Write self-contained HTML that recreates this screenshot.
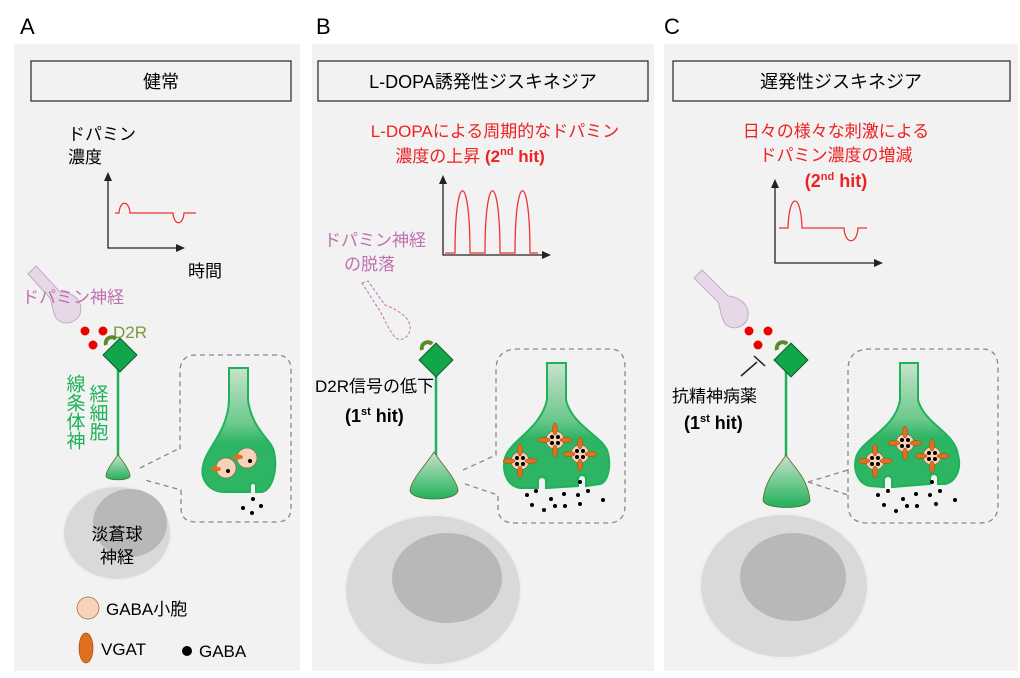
<!DOCTYPE html>
<html><head><meta charset="utf-8"><style>
body{margin:0;background:#fff;}
svg{display:block;font-family:"Liberation Sans","Noto Sans CJK JP",sans-serif;}
</style></head><body>
<svg width="1020" height="678" viewBox="0 0 1020 678" xmlns="http://www.w3.org/2000/svg">
<defs>
<linearGradient id="g" x1="0" y1="0" x2="0" y2="1"><stop offset="0" stop-color="#c8e2cc"/><stop offset="1" stop-color="#1fb25a"/></linearGradient>
<linearGradient id="t" x1="0" y1="0" x2="0" y2="1"><stop offset="0" stop-color="#c8e2cc"/><stop offset="0.45" stop-color="#6cc98c"/><stop offset="0.6" stop-color="#2db563"/><stop offset="1" stop-color="#2db563"/></linearGradient>
<g id="ves"><circle r="9" fill="#f6d3b8" stroke="#8a6a50" stroke-width="0.7"/>
<ellipse cx="0" cy="-11" rx="2.5" ry="6" fill="#e07020" stroke="#a04a10" stroke-width="0.5"/>
<ellipse cx="0" cy="11" rx="2.5" ry="6" fill="#e07020" stroke="#a04a10" stroke-width="0.5"/>
<ellipse cx="-11" cy="0" rx="6" ry="2.5" fill="#e07020" stroke="#a04a10" stroke-width="0.5"/>
<ellipse cx="11" cy="0" rx="6" ry="2.5" fill="#e07020" stroke="#a04a10" stroke-width="0.5"/>
<circle cx="-3" cy="-3" r="2" fill="#000"/><circle cx="3" cy="-3" r="2" fill="#000"/><circle cx="-3" cy="3" r="2" fill="#000"/><circle cx="3" cy="3" r="2" fill="#000"/></g>
<g id="rec"><rect x="-12" y="-12" width="24" height="24" transform="rotate(45)" fill="#12a64a" stroke="#0d5a2a" stroke-width="1"/>
<path d="M-14,-10 a6,6 0 0 1 10,-6" fill="none" stroke="#5a8a2a" stroke-width="4"/></g>
</defs>
<text x="20" y="34" font-size="22">A</text>
<text x="316" y="34" font-size="22">B</text>
<text x="664" y="34" font-size="22">C</text>
<rect x="14" y="44" width="286" height="627" fill="#f2f2f2"/>
<rect x="312" y="44" width="342" height="627" fill="#f2f2f2"/>
<rect x="664" y="44" width="354" height="627" fill="#f2f2f2"/>
<rect x="31" y="61" width="260" height="40" fill="none" stroke="#333" stroke-width="1.3"/>
<rect x="318" y="61" width="330" height="40" fill="none" stroke="#333" stroke-width="1.3"/>
<rect x="673" y="61" width="337" height="40" fill="none" stroke="#333" stroke-width="1.3"/>
<text x="161" y="88" font-size="18" text-anchor="middle">健常</text>
<text x="483" y="88" font-size="18" text-anchor="middle">L-DOPA誘発性ジスキネジア</text>
<text x="841" y="88" font-size="18" text-anchor="middle">遅発性ジスキネジア</text>

<!-- A graph -->
<text x="68" y="140" font-size="17">ドパミン</text>
<text x="68" y="163" font-size="17">濃度</text>
<text x="188" y="277" font-size="17">時間</text>
<path d="M108,178 V248 H178" fill="none" stroke="#222" stroke-width="1.3"/>
<path d="M104,181 L108,172 L112,181Z M176,244 L185,248 L176,252Z" fill="#222"/>
<path d="M115,213 H119 C120,200 129,200 130,213 H173 C174,226 183,226 184,213 H196" fill="none" stroke="#e33" stroke-width="1.3"/>
<!-- A neuron -->
<path d="M28,274 L36,266 L60,292 C72,292 84,300 80,314 C76,324 62,326 56,318 C52,310 52,302 50,298 Z" fill="#e7d8e8" stroke="#c8a8cc" stroke-width="1"/>
<text x="22" y="303" font-size="17" fill="#c070b0">ドパミン神経</text>
<circle cx="85" cy="331" r="4.5" fill="#e00"/><circle cx="103" cy="331" r="4.5" fill="#e00"/><circle cx="93" cy="345" r="4.5" fill="#e00"/>
<text x="113" y="338" font-size="17" fill="#7a9a3a">D2R</text>
<line x1="118" y1="365" x2="118" y2="457" stroke="#1fb25a" stroke-width="2.5"/>
<use href="#rec" x="120" y="355"/>
<path d="M118,455 C114,460 106,470 106,476 C106,481 130,481 130,476 C130,470 122,460 118,455Z" fill="url(#g)" stroke="#5a6a2a" stroke-width="0.8"/>
<text font-size="19" fill="#1fb25a" writing-mode="tb" x="74" y="374">線条体神</text>
<text font-size="19" fill="#1fb25a" writing-mode="tb" x="97" y="384">経細胞</text>
<path d="M140,468 L176,450 L180,450 L180,372 Q180,355 196,355 L276,355 Q291,355 291,370 L291,508 Q291,522 276,522 L196,522 Q181,522 181,508 L181,490 L145,480" fill="none" stroke="#888" stroke-width="1.3" stroke-dasharray="5,4"/>
<path d="M229,368 H248 V400 C252,430 272,440 274,452 C278,470 272,490 262,492 L256,492 V486 A3,3 0 0 0 250,486 V492 L225,492 C208,492 200,478 203,466 C206,448 228,432 229,400Z" fill="url(#t)" stroke="#1fb25a" stroke-width="2"/>
<circle cx="247" cy="458" r="10" fill="#f6d3b8" stroke="#8a6a50" stroke-width="0.7"/><circle cx="250" cy="461" r="2" fill="#000"/><ellipse cx="238" cy="457" rx="5" ry="2.5" fill="#e07020"/>
<circle cx="226" cy="468" r="10" fill="#f6d3b8" stroke="#8a6a50" stroke-width="0.7"/><circle cx="228" cy="471" r="2" fill="#000"/><ellipse cx="216" cy="469" rx="5" ry="2.5" fill="#e07020"/>
<circle cx="253" cy="499" r="2" fill="#000"/><circle cx="243" cy="508" r="2" fill="#000"/><circle cx="261" cy="506" r="2" fill="#000"/><circle cx="252" cy="513" r="2" fill="#000"/>
<ellipse cx="117" cy="533" rx="54" ry="47" fill="#d8d9d9" stroke="#eee" stroke-width="2"/>
<ellipse cx="130" cy="523" rx="37" ry="34" fill="#bab7b7"/>
<text x="117" y="540" font-size="17" text-anchor="middle">淡蒼球</text>
<text x="117" y="563" font-size="17" text-anchor="middle">神経</text>
<circle cx="88" cy="608" r="11" fill="#f6d3b8" stroke="#8a6a50" stroke-width="0.7"/>
<text x="106" y="615" font-size="17">GABA小胞</text>
<ellipse cx="86" cy="648" rx="7" ry="15" fill="#e07020" stroke="#a04a10" stroke-width="0.7"/>
<text x="101" y="655" font-size="17">VGAT</text>
<circle cx="187" cy="651" r="5" fill="#000"/>
<text x="199" y="657" font-size="17">GABA</text>

<!-- B -->
<text x="495" y="137" font-size="17" fill="#e22" text-anchor="middle">L-DOPAによる周期的なドパミン</text>
<text x="470" y="162" font-size="17" fill="#e22" text-anchor="middle">濃度の上昇 <tspan font-weight="bold">(2<tspan font-size="11" dy="-7">nd</tspan><tspan dy="7"> hit)</tspan></tspan></text>
<path d="M443,181 V255 H544" fill="none" stroke="#222" stroke-width="1.3"/>
<path d="M439,184 L443,175 L447,184Z M542,251 L551,255 L542,259Z" fill="#222"/>
<path d="M445,253 H455 C455,170 470,170 470,253 H485 C485,170 500,170 500,253 H515 C515,170 530,170 530,253 H538" fill="none" stroke="#e33" stroke-width="1.3"/>
<text x="324" y="246" font-size="17" fill="#c070b0">ドパミン神経</text>
<text x="344" y="270" font-size="17" fill="#c070b0">の脱落</text>
<path d="M362,283 L368,281 L385,305 C398,310 412,318 410,330 C408,340 398,342 394,336 C386,326 384,316 378,308 Z" fill="none" stroke="#c070b0" stroke-width="1" stroke-dasharray="3,2"/>
<line x1="436" y1="370" x2="436" y2="457" stroke="#1fb25a" stroke-width="2.5"/>
<use href="#rec" x="436" y="360"/>
<path d="M434,452 C428,462 412,478 410,490 C410,502 458,502 458,490 C456,478 440,462 434,452Z" fill="url(#g)" stroke="#5a6a2a" stroke-width="0.8"/>
<text x="315" y="392" font-size="17">D2R信号の低下</text>
<text x="345" y="422" font-size="18" font-weight="bold">(1<tspan font-size="11" dy="-7">st</tspan><tspan dy="7"> hit)</tspan></text>
<path d="M463,470 L496,455 L496,370 Q496,349 518,349 L610,349 Q625,349 625,368 L625,505 Q625,523 608,523 L515,523 Q498,523 498,508 L498,495 L465,484" fill="none" stroke="#888" stroke-width="1.3" stroke-dasharray="5,4"/>
<path d="M547,363 H566 V400 C572,425 600,435 607,450 C612,465 608,482 600,484 L586,486 V479 A4,4 0 0 0 578,479 V486 L546,488 V481 A4,4 0 0 0 538,481 V488 L520,488 C506,486 502,470 505,458 C510,440 540,430 547,400Z" fill="url(#t)" stroke="#1fb25a" stroke-width="2"/>
<use href="#ves" x="555" y="440"/><use href="#ves" x="580" y="454"/><use href="#ves" x="520" y="461"/>
<g fill="#000"><circle cx="527" cy="495" r="2"/><circle cx="536" cy="491" r="2"/><circle cx="532" cy="505" r="2"/><circle cx="544" cy="510" r="2"/><circle cx="551" cy="499" r="2"/><circle cx="555" cy="506" r="2"/><circle cx="564" cy="494" r="2"/><circle cx="565" cy="506" r="2"/><circle cx="578" cy="495" r="2"/><circle cx="580" cy="504" r="2"/><circle cx="588" cy="491" r="2"/><circle cx="603" cy="500" r="2"/><circle cx="580" cy="482" r="2"/></g>
<ellipse cx="433" cy="590" rx="88" ry="75" fill="#d8d9d9" stroke="#eee" stroke-width="2"/>
<ellipse cx="447" cy="578" rx="55" ry="45" fill="#bab7b7"/>

<!-- C -->
<text x="836" y="137" font-size="17" fill="#e22" text-anchor="middle">日々の様々な刺激による</text>
<text x="836" y="161" font-size="17" fill="#e22" text-anchor="middle">ドパミン濃度の増減</text>
<text x="836" y="187" font-size="18" fill="#e22" font-weight="bold" text-anchor="middle">(2<tspan font-size="11" dy="-7">nd</tspan><tspan dy="7"> hit)</tspan></text>
<path d="M775,185 V263 H876" fill="none" stroke="#222" stroke-width="1.3"/>
<path d="M771,188 L775,179 L779,188Z M874,259 L883,263 L874,267Z" fill="#222"/>
<path d="M779,228 H788 C789,192 801,192 802,228 H844 C845,245 857,245 858,228 H867" fill="none" stroke="#e33" stroke-width="1.3"/>
<path d="M694,278 L702,270 L728,296 C740,297 752,306 747,320 C742,330 728,330 724,322 C720,314 720,306 718,302 Z" fill="#e7d8e8" stroke="#c8a8cc" stroke-width="1"/>
<circle cx="749" cy="331" r="4.5" fill="#e00"/><circle cx="768" cy="331" r="4.5" fill="#e00"/><circle cx="758" cy="345" r="4.5" fill="#e00"/>
<path d="M741,376 L757,362 M754,356 L765,366" stroke="#222" stroke-width="1.5" fill="none"/>
<line x1="786" y1="370" x2="786" y2="457" stroke="#1fb25a" stroke-width="2.5"/>
<use href="#rec" x="791" y="360"/>
<path d="M786,455 C780,465 765,478 763,500 C763,510 810,510 810,500 C808,478 792,465 786,455Z" fill="url(#g)" stroke="#5a6a2a" stroke-width="0.8"/>
<text x="672" y="402" font-size="17">抗精神病薬</text>
<text x="684" y="429" font-size="18" font-weight="bold">(1<tspan font-size="11" dy="-7">st</tspan><tspan dy="7"> hit)</tspan></text>
<path d="M808,482 L848,495 L848,370 Q848,349 870,349 L982,349 Q998,349 998,368 L998,505 Q998,523 980,523 L868,523 Q848,523 848,505 L848,495 M808,482 L848,470" fill="none" stroke="#888" stroke-width="1.3" stroke-dasharray="5,4"/>
<path d="M900,363 H918 V400 C925,425 955,432 958,455 C962,470 955,482 945,484 L938,484 V478 A4,4 0 0 0 930,478 V484 L892,487 V480 A4,4 0 0 0 884,480 V487 L870,486 C858,484 853,470 856,458 C860,440 895,430 900,400Z" fill="url(#t)" stroke="#1fb25a" stroke-width="2"/>
<use href="#ves" x="905" y="443"/><use href="#ves" x="932" y="456"/><use href="#ves" x="875" y="461"/>
<g fill="#000"><circle cx="878" cy="495" r="2"/><circle cx="888" cy="491" r="2"/><circle cx="884" cy="505" r="2"/><circle cx="896" cy="511" r="2"/><circle cx="903" cy="499" r="2"/><circle cx="907" cy="506" r="2"/><circle cx="916" cy="494" r="2"/><circle cx="917" cy="506" r="2"/><circle cx="930" cy="495" r="2"/><circle cx="936" cy="504" r="2"/><circle cx="940" cy="491" r="2"/><circle cx="955" cy="500" r="2"/><circle cx="932" cy="482" r="2"/></g>
<ellipse cx="784" cy="586" rx="84" ry="72" fill="#d8d9d9" stroke="#eee" stroke-width="2"/>
<ellipse cx="793" cy="577" rx="53" ry="44" fill="#bab7b7"/>
</svg>
</body></html>
